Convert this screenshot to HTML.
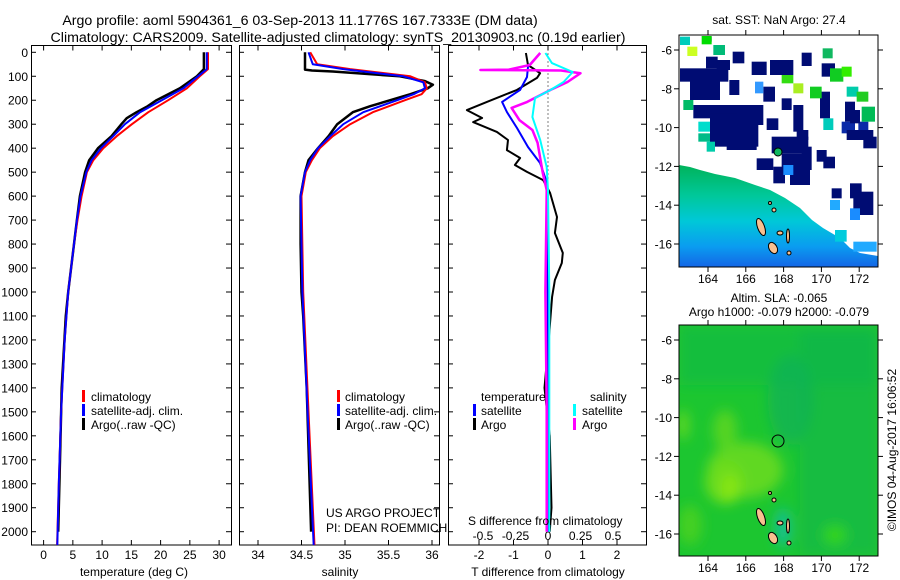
<!DOCTYPE html>
<html><head><meta charset="utf-8"><style>
body{margin:0;background:#fff;}
svg{display:block;font-family:"Liberation Sans",sans-serif;}
</style></head><body>
<svg id="fig" width="900" height="580" xmlns="http://www.w3.org/2000/svg">
<defs>
<linearGradient id="sstg" x1="0" y1="0" x2="0" y2="1">
<stop offset="0" stop-color="#00b35a"/><stop offset="0.3" stop-color="#00c89a"/><stop offset="0.55" stop-color="#00c8d8"/><stop offset="0.8" stop-color="#0a9cf0"/><stop offset="1" stop-color="#1466e6"/>
</linearGradient>
<filter id="blur" x="-30%" y="-30%" width="160%" height="160%"><feGaussianBlur stdDeviation="6"/></filter>
<clipPath id="c1"><rect x="32" y="45" width="199" height="500"/></clipPath>
<clipPath id="c2"><rect x="240" y="45" width="199" height="500"/></clipPath>
<clipPath id="c3"><rect x="449" y="45" width="197" height="500"/></clipPath>
<clipPath id="m1"><rect x="679" y="35" width="199" height="232"/></clipPath>
<clipPath id="m2"><rect x="679" y="325" width="199" height="231"/></clipPath>
</defs>
<text x="300" y="25" font-size="14.2" text-anchor="middle">Argo profile: aoml 5904361_6 03-Sep-2013 11.1776S 167.7333E (DM data)</text>
<text x="338" y="42" font-size="14.2" text-anchor="middle">Climatology: CARS2009. Satellite-adjusted climatology: synTS_20130903.nc (0.19d earlier)</text>

<g id="p1"></g>
<g id="p2"></g>
<g id="p3"></g>

<g font-size="12">
<rect x="82" y="390" width="3" height="12" fill="#f00"/><text x="91" y="401">climatology</text>
<rect x="82" y="404" width="3" height="12" fill="#00f"/><text x="91" y="415">satellite-adj. clim.</text>
<rect x="82" y="418" width="3" height="12" fill="#000"/><text x="91" y="429">Argo(..raw -QC)</text>
</g>
<g font-size="12">
<rect x="337" y="390" width="3" height="12" fill="#f00"/><text x="345" y="401">climatology</text>
<rect x="337" y="404" width="3" height="12" fill="#00f"/><text x="345" y="415">satellite-adj. clim.</text>
<rect x="337" y="418" width="3" height="12" fill="#000"/><text x="345" y="429">Argo(..raw -QC)</text>
</g>
<g font-size="12">
<text x="481" y="401">temperature</text><text x="590" y="401">salinity</text>
<rect x="473" y="404" width="3" height="12" fill="#00f"/><text x="481" y="415">satellite</text>
<rect x="473" y="418" width="3" height="12" fill="#000"/><text x="481" y="429">Argo</text>
<rect x="573" y="404" width="3" height="12" fill="#0ff"/><text x="582" y="415">satellite</text>
<rect x="573" y="418" width="3" height="12" fill="#f0f"/><text x="582" y="429">Argo</text>
</g>
<text x="326" y="517" font-size="12">US ARGO PROJECT</text>
<text x="326" y="532" font-size="12">PI: DEAN ROEMMICH</text>
<text x="468" y="525" font-size="12">S difference from climatology</text>

<text x="779" y="24" font-size="12" text-anchor="middle">sat. SST: NaN Argo: 27.4</text>
<g clip-path="url(#m1)" id="map1">
<rect x="679" y="35" width="199" height="232" fill="#fff"/>
<polygon points="679,165 690,167 700,170 715,174 735,178 755,185 770,190 785,198 800,208 812,220 823,228 840,238 850,248 860,253 878,256 878,267 679,267" fill="url(#sstg)"/>
</g>
<rect x="679" y="35" width="199" height="232" fill="none" stroke="#000"/>
<g id="map1ax" font-size="12"></g>

<text x="779" y="302" font-size="12" text-anchor="middle">Altim. SLA: -0.065</text>
<text x="779" y="316" font-size="12" text-anchor="middle">Argo h1000: -0.079 h2000: -0.079</text>
<g clip-path="url(#m2)" id="map2">
<rect x="679" y="325" width="199" height="231" fill="#1cc630"/>
<g filter="url(#blur)">
<rect x="679" y="325" width="199" height="60" fill="#14bb44" opacity="0.7"/>
<rect x="800" y="330" width="78" height="226" fill="#12b64c" opacity="0.6"/>
<ellipse cx="745" cy="470" rx="38" ry="28" fill="#60d820"/>
<ellipse cx="725" cy="430" rx="12" ry="20" fill="#55d420"/>
<ellipse cx="725" cy="482" rx="20" ry="22" fill="#6cdc1a"/>
<ellipse cx="730" cy="488" rx="8" ry="14" fill="#88e614"/>
<ellipse cx="683" cy="425" rx="6" ry="15" fill="#60d820"/>
<ellipse cx="690" cy="525" rx="12" ry="20" fill="#44d020"/>
<ellipse cx="835" cy="535" rx="12" ry="10" fill="#33d41c"/>
<ellipse cx="783" cy="528" rx="8" ry="20" fill="#12c090"/>
<ellipse cx="790" cy="400" rx="22" ry="45" fill="#10b058" opacity="0.7"/>
</g>
</g>
<rect x="679" y="325" width="199" height="231" fill="none" stroke="#000"/>
<circle cx="778" cy="441" r="6" fill="none" stroke="#000"/>
<g id="map2ax" font-size="12"></g>
<text transform="translate(896,450) rotate(-90)" font-size="12" text-anchor="middle">©IMOS 04-Aug-2017 16:06:52</text>

<script>
const tClimDepth=[0,70,100,150,200,250,300,350,400,450,500,600,700,800,900,1000,1200,1500,1800,2058];
const tClim=[28.1,28.1,26.7,24.5,21.3,17.9,15.1,12.5,10.2,8.5,7.4,6.5,5.8,5.2,4.7,4.2,3.6,3.0,2.6,2.3];
const tSatDepth=[0,70,100,150,200,250,300,350,400,450,500,600,700,800,900,1000,1200,1500,1800,2058];
const tSat=[27.9,27.9,26.4,23.9,20.2,16.5,13.9,11.9,9.8,8.2,7.3,6.3,5.7,5.2,4.7,4.2,3.6,3.0,2.6,2.35];
const tArgoDepth=[0,70,100,150,200,225,250,275,300,350,400,450,500,600,700,800,900,1000,1100,1400,1700,2000];
const tArgo=[27.4,27.4,26.2,23.3,19.3,17.8,15.9,14.2,13.3,11.6,9.3,7.8,7.1,6.2,5.7,5.2,4.7,4.2,3.8,3.1,2.8,2.5];
const sClimDepth=[0,50,70,100,125,150,175,200,250,300,350,400,450,500,600,1000,1500,2058];
const sClim=[34.6,34.68,35.06,35.75,35.92,35.94,35.88,35.69,35.32,35.06,34.86,34.71,34.62,34.55,34.5,34.52,34.58,34.65];
const sSatDepth=[0,50,70,100,125,150,175,200,250,300,350,400,450,500,600,1000,1500,2058];
const sSat=[34.58,34.63,34.98,35.67,35.9,35.92,35.79,35.6,35.21,34.98,34.83,34.69,34.6,34.54,34.49,34.51,34.57,34.64];
const sArgoDepth=[0,72,76,80,100,120,135,150,175,200,225,250,300,350,400,450,500,600,800,1000,1100,1400,2000];
const sArgo=[34.54,34.54,34.62,34.86,35.63,35.92,36.01,35.95,35.75,35.52,35.29,35.09,34.91,34.81,34.69,34.58,34.54,34.49,34.49,34.5,34.52,34.56,34.61];
const dtArgoDepth=[3,53,87,107,157,207,241,274,291,332,366,408,441,470,499,533,587,687,754,837,879,950,1020,1200,1400,1600,1900,2000];
const dtArgo=[-0.64,-0.58,-0.23,-0.32,-0.9,-1.77,-2.35,-1.91,-2.17,-1.48,-1.16,-1.19,-0.81,-0.96,-0.61,-0.14,0.06,0.26,0.2,0.43,0.4,0.2,0.12,0.02,-0.1,0.05,0.1,0.05];
const dtSatDepth=[3,60,103,157,207,249,316,395,462,545,645,1000,1500,2000];
const dtSat=[-0.23,-0.58,-0.61,-0.81,-1.33,-1.19,-0.9,-0.58,-0.23,-0.03,-0.03,-0.01,0.0,0.0];
const dsSatDepth=[3,45,82,124,157,191,270,366,479,575,1000,1500,2000];
const dsSat=[-0.02,0.03,0.19,0.12,0.02,-0.1,-0.12,-0.06,-0.01,0.0,0.01,0.01,0.01];
const dsArgoDepth=[3,53,72,74,76,87,124,157,207,232,283,324,378,504,575,1000,1500,2000];
const dsArgo=[-0.06,-0.14,-0.3,-0.52,0.1,0.25,0.15,0.02,-0.16,-0.28,-0.22,-0.12,-0.08,-0.04,-0.01,-0.02,-0.01,-0.01];
const depthTicks=[0,100,200,300,400,500,600,700,800,900,1000,1100,1200,1300,1400,1500,1600,1700,1800,1900,2000];
const tTicks=[0,5,10,15,20,25,30];
const sTicks=[34,34.5,35,35.5,36];
const dtTicks=[-2,-1,0,1,2];
const dsTicks=[-0.5,-0.25,0,0.25,0.5];
const dsTickLabels=["-0.5","-0.25","0","0.25","0.5"];
const lonTicks=[164,166,168,170,172];
const latTicks=[-6,-8,-10,-12,-14,-16];

const NS="http://www.w3.org/2000/svg";
const yD=d=>52.3+d*0.2397;
const xT=t=>43.6+t*5.85;
const xS=s=>258+(s-34)*87;
const xDT=v=>548+v*34.5;
const xDS=v=>548+v*130;
const PY0=45.5,PY1=545;
function mk(tag,attrs,parent){const e=document.createElementNS(NS,tag);for(const k in attrs)e.setAttribute(k,attrs[k]);parent.appendChild(e);return e;}
function line(parent,xs,ds,xf,color,w,name,clip){
  const pts=xs.map((v,i)=>xf(v).toFixed(1)+","+yD(ds[i]).toFixed(1)).join(" ");
  const p=mk("polyline",{points:pts,fill:"none",stroke:color,"stroke-width":w,"stroke-linejoin":"round","clip-path":clip},parent);
  
  
}
function frame(parent,x0,x1,name,xticks,xf,labels,labelY){
  const r=mk("rect",{x:x0+0.5,y:PY0,width:x1-x0,height:PY1-PY0,fill:"none",stroke:"#000"},parent);
  
  
  depthTicks.forEach(d=>{
    mk("line",{x1:x0,x2:x0+5,y1:yD(d),y2:yD(d),stroke:"#000"},parent);
    mk("line",{x1:x1-5,x2:x1,y1:yD(d),y2:yD(d),stroke:"#000"},parent);
  });
  xticks.forEach((v,i)=>{
    const x=xf(v);
    mk("line",{x1:x,x2:x,y1:PY0,y2:PY0+5,stroke:"#000"},parent);
    mk("line",{x1:x,x2:x,y1:PY1-5,y2:PY1,stroke:"#000"},parent);
    if(labels){
      const t=mk("text",{x:x,y:labelY,"font-size":12,"text-anchor":"middle"},parent);
      t.textContent=labels[i];
      
      
    }
  });
}
const p1=document.getElementById("p1"),p2=document.getElementById("p2"),p3=document.getElementById("p3");
frame(p1,31,231,"temperature-axes-frame",tTicks,xT,tTicks.map(String),559);
frame(p2,239,439,"salinity-axes-frame",sTicks,xS,sTicks.map(String),559);
frame(p3,448,646,"difference-axes-frame",dtTicks,xDT,dtTicks.map(String),559);
dsTicks.forEach((v,i)=>{
  const t=mk("text",{x:xDS(v),y:540,"font-size":12,"text-anchor":"middle"},p3);
  t.textContent=dsTickLabels[i];
  
  
});
depthTicks.forEach(d=>{
  const t=mk("text",{x:28,y:yD(d)+4.5,"font-size":12,"text-anchor":"end"},p1);
  t.textContent=String(d);
  
  
});
[[p1,134,"temperature (deg C)","temperature-axis-title"],[p2,340,"salinity","salinity-axis-title"],[p3,548,"T difference from climatology","t-diff-axis-title"]].forEach(a=>{
  const t=mk("text",{x:a[1],y:576,"font-size":12,"text-anchor":"middle"},a[0]);
  t.textContent=a[2];
  
  
});
const z=mk("line",{x1:548,x2:548,y1:PY0,y2:yD(560),stroke:"#000","stroke-dasharray":"1,3"},p3);



line(p1,tArgo,tArgoDepth,xT,"#000",2.5,"temp-argo-line","url(#c1)");
line(p1,tClim,tClimDepth,xT,"#f00",2,"temp-climatology-line","url(#c1)");
line(p1,tSat,tSatDepth,xT,"#00f",2,"temp-satellite-line","url(#c1)");
line(p2,sArgo,sArgoDepth,xS,"#000",2.5,"sal-argo-line","url(#c2)");
line(p2,sClim,sClimDepth,xS,"#f00",2,"sal-climatology-line","url(#c2)");
line(p2,sSat,sSatDepth,xS,"#00f",2,"sal-satellite-line","url(#c2)");
line(p3,dtArgo,dtArgoDepth,xDT,"#000",2,"t-diff-argo-line","url(#c3)");
line(p3,dtSat,dtSatDepth,xDT,"#00f",2,"t-diff-satellite-line","url(#c3)");
line(p3,dsArgo,dsArgoDepth,xDS,"#f0f",2.5,"s-diff-argo-line","url(#c3)");
line(p3,dsSat,dsSatDepth,xDS,"#0ff",2,"s-diff-satellite-line","url(#c3)");

const m1=document.getElementById("map1"),m2=document.getElementById("map2");
const blocks=[
[248,125,35,35,"#000c73"],[168,140,35,35,"#000c73"],[90,175,145,40,"#000c73"],[120,210,90,60,"#000c73"],[238,210,30,45,"#000c73"],
[305,155,45,40,"#000c73"],[360,150,70,45,"#000c73"],[455,128,30,40,"#000c73"],[340,230,35,45,"#000c73"],[130,285,140,40,"#000c73"],
[180,310,145,100,"#000c73"],[260,285,80,60,"#000c73"],[230,380,90,40,"#000c73"],[350,325,35,35,"#000c73"],[395,265,30,35,"#000c73"],
[430,285,30,80,"#000c73"],[365,380,110,50,"#000c73"],[395,430,80,50,"#000c73"],[420,460,60,65,"#000c73"],[370,470,35,50,"#000c73"],
[455,410,30,70,"#000c73"],[500,420,30,35,"#000c73"],[520,440,35,35,"#000c73"],[510,245,30,80,"#000c73"],[515,160,40,40,"#000c73"],
[575,335,40,35,"#0a2aa8"],[625,335,30,30,"#0a2aa8"],[590,360,80,30,"#000c73"],[640,380,40,35,"#000c73"],[545,535,30,30,"#000c73"],
[600,520,35,45,"#000c73"],[610,545,60,70,"#000c73"],[585,275,30,60,"#000c73"],[320,445,50,35,"#000c73"],[170,80,15,15,"#000c73"],
[200,150,40,30,"#000c73"],[270,345,50,40,"#000c73"],[440,360,35,30,"#000c73"],[600,300,30,40,"#000c73"],[130,240,60,30,"#000c73"],
[518,115,30,30,"#10b860"],[480,230,35,35,"#11cc22"],[430,220,30,30,"#aaee22"],[395,195,35,25,"#33dd11"],[540,175,40,40,"#11cc22"],
[575,170,30,30,"#33ee00"],[590,230,35,30,"#00ccaa"],[620,245,35,30,"#22cc22"],[635,290,40,45,"#00bb55"],[520,325,30,35,"#00ccbb"],
[145,335,35,30,"#00ddcc"],[145,370,35,25,"#00bb88"],[170,395,25,30,"#00ccaa"],[315,215,25,35,"#3399ff"],[540,570,30,30,"#22aaff"],
[555,660,35,35,"#00ccdd"],[610,695,70,30,"#22aaff"],[100,270,30,30,"#00bb66"],[190,105,35,30,"#00bb77"],[155,78,30,25,"#00dd00"],
[112,110,30,28,"#ccff22"],[90,80,30,25,"#00ccbb"],[400,465,30,30,"#1a8cff"],[600,595,30,35,"#1a8cff"]];
blocks.forEach(b=>{
  const r=mk("rect",{x:650+b[0]/3,y:10+b[1]/3,width:b[2]/3,height:b[3]/3,fill:b[4]},m1);
  
  
});
const islands=[[761,227,3.5,9,-20],[773,248,4,6,-30],[780,233,3,2,0],[788,236,1.5,7,0],[774,210,2,2,0],[789,253,2,2,0],[770,203,1.5,1.5,0]];
[[m1,0],[m2,290]].forEach(m=>{
  islands.forEach(s=>{
    const e=mk("ellipse",{cx:s[0],cy:s[1]+m[1],rx:s[2],ry:s[3],fill:"#f8c090",stroke:"#000","stroke-width":1,transform:`rotate(${s[4]} ${s[0]} ${s[1]+m[1]})`},m[0]);
    
    
  });
});
const fm=mk("circle",{cx:778,cy:152,r:4,fill:"#10b860",stroke:"#000"},m1);


const xLon=l=>708+(l-164)*18.9;
function mapAxes(g,top,bottom,latY0){
  const yLat=l=>latY0+(-6-l)*19.4;
  lonTicks.forEach(l=>{
    mk("line",{x1:xLon(l),x2:xLon(l),y1:top-5,y2:top,stroke:"#000"},g);
    mk("line",{x1:xLon(l),x2:xLon(l),y1:bottom,y2:bottom+5,stroke:"#000"},g);
    const t=mk("text",{x:xLon(l),y:bottom+16,"text-anchor":"middle"},g);
    t.textContent=String(l);
    
    
  });
  latTicks.forEach(l=>{
    mk("line",{x1:674,x2:679,y1:yLat(l),y2:yLat(l),stroke:"#000"},g);
    mk("line",{x1:878,x2:883,y1:yLat(l),y2:yLat(l),stroke:"#000"},g);
    const t=mk("text",{x:672,y:yLat(l)+4.5,"text-anchor":"end"},g);
    t.textContent=String(l);
    
    
  });
}
mapAxes(document.getElementById("map1ax"),35,267,50);
mapAxes(document.getElementById("map2ax"),325,556,340);
</script>
</svg>
</body></html>
